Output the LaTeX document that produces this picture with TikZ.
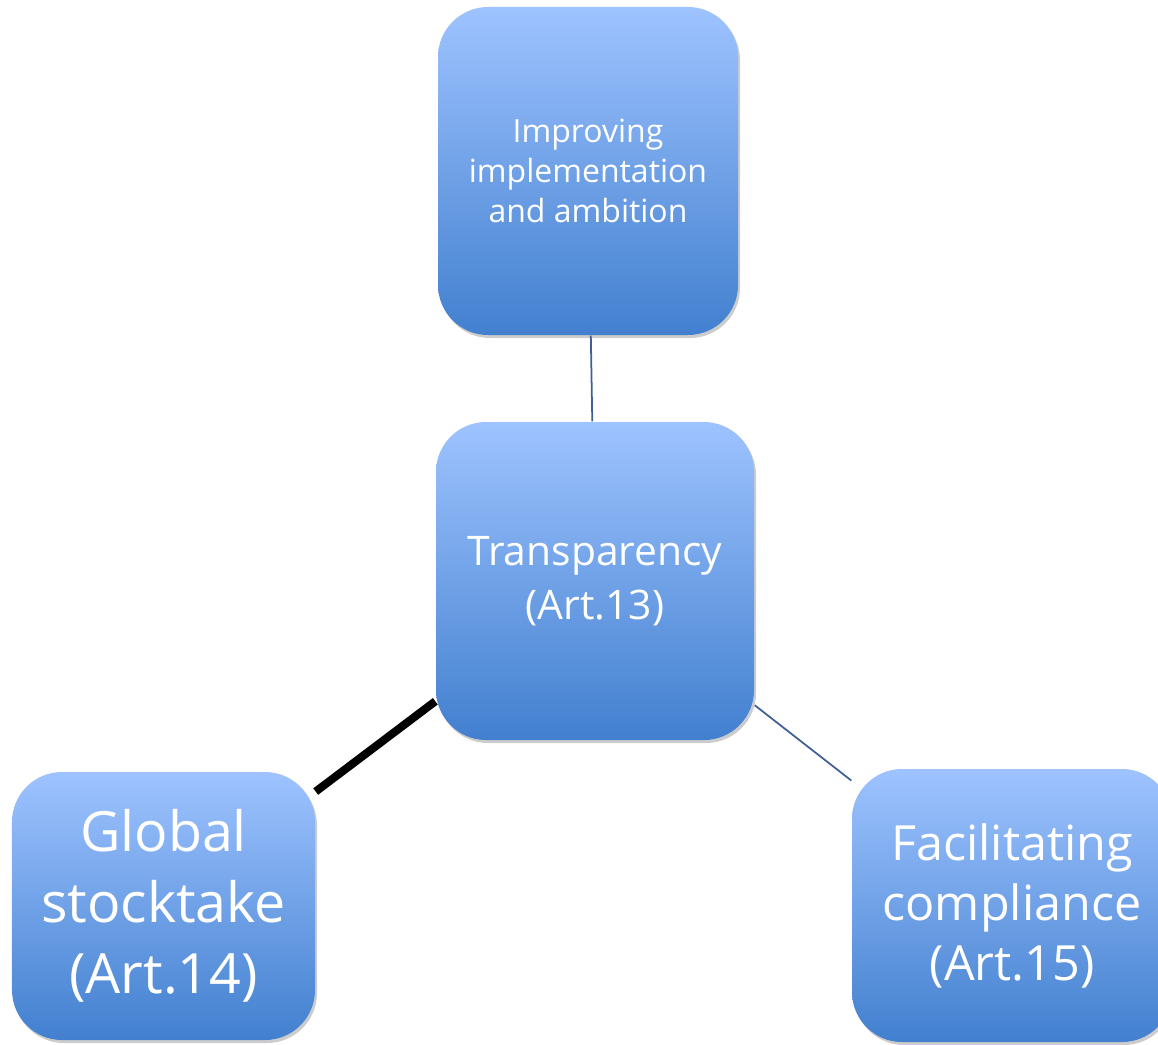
\documentclass[tikz,border=0pt]{standalone}
\usepackage{fontspec}
\setmainfont{Open Sans}
\usepackage{xcolor}
\usetikzlibrary{shapes,arrows.meta,positioning,shadows}

\definecolor{boxtop}{RGB}{158,195,255}
\definecolor{boxbottom}{RGB}{66,128,207}
\definecolor{linkblue}{RGB}{62,96,148}

\begin{document}
\begin{tikzpicture}[
    block/.style={rectangle, rounded corners=0.5cm, top color=boxtop, bottom color=boxbottom, text=white, align=center, inner sep=0pt, drop shadow={shadow xshift=0.02cm, shadow yshift=-0.03cm, opacity=0.2, fill=black}},
    link/.style={draw=linkblue, line width=0.5pt}
]
    \useasboundingbox (0,0) rectangle (11.58,10.44);
    \clip (0,0) rectangle (11.58,10.44);

    % Ambition
    \node[block, minimum width=3.00cm, minimum height=3.28cm, font=\fontsize{9.1}{11.4}\selectfont] (ambition) at (5.88, 8.73) {Improving\\implementation\\and ambition};

    % Transparency
    \node[block, minimum width=3.18cm, minimum height=3.18cm, font=\fontsize{11.6}{15.4}\selectfont] (transp) at (5.95, 4.63) {Transparency\\(Art.13)};

    % Stocktake
    \node[block, minimum width=3.03cm, minimum height=2.68cm, font=\fontsize{15.8}{20.2}\selectfont] (stocktake) at (1.635, 1.38) {Global\\stocktake\\(Art.14)};

    % Compliance
    \node[block, minimum width=3.20cm, minimum height=2.73cm, font=\fontsize{13.8}{17.1}\selectfont] (compliance) at (10.12, 1.385) {Facilitating\\compliance\\(Art.15)};

    % Links
    \draw[link] (ambition) -- (transp);
    \draw[line width=2.3pt, black] (transp) -- (stocktake);
    \draw[link] (transp) -- (compliance);
\end{tikzpicture}
\end{document}
